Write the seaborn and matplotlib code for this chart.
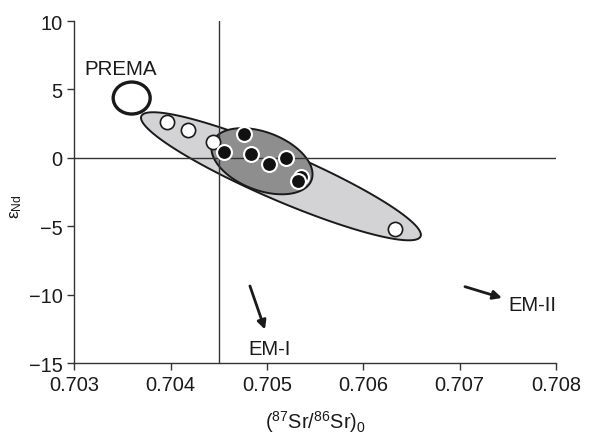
import numpy as np
import pandas as pd
import seaborn as sns
import matplotlib.pyplot as plt
from matplotlib.patches import Ellipse, Polygon

# data
open_sr = [0.703965, 0.704183, 0.704442, 0.706330]
open_nd = [2.63, 2.05, 1.17, -5.19]
filled_sr = [0.704763, 0.704553, 0.704829, 0.705016, 0.705192, 0.705349, 0.705326]
filled_nd = [1.75, 0.42, 0.29, -0.44, -0.02, -1.41, -1.70]

x_ticks = [0.703, 0.704, 0.705, 0.706, 0.707, 0.708]
y_ticks = [-15, -10, -5, 0, 5, 10]

sns.set_style("ticks")
plt.rcParams['font.family'] = ['Liberation Sans', 'DejaVu Sans']
plt.rcParams['mathtext.fontset'] = 'custom'
plt.rcParams['mathtext.rm'] = 'Liberation Sans'
plt.rcParams['mathtext.it'] = 'Liberation Sans'

fig = plt.figure(figsize=(6.04, 4.35), dpi=100)
ax = fig.add_axes([0.1233, 0.1632, 0.7972, 0.7862])
ax.set_xlim(0.703, 0.708)
ax.set_ylim(-15, 10)

# data units per pixel, so the ellipses can be given in screen terms
sx = 0.005 / 481.5
sy = 25 / 342.0


def ellipse_poly(cx, cy, a, b, ang):
    t = np.linspace(0, 2 * np.pi, 200)
    th = np.deg2rad(ang)
    u = a * np.cos(t)
    v = b * np.sin(t)
    px = u * np.cos(th) - v * np.sin(th)
    py = u * np.sin(th) + v * np.cos(th)
    return np.column_stack([cx + px * sx, cy + py * sy])


ax.add_patch(Polygon(ellipse_poly(0.705144, -1.35, 152, 24, -23.3),
                     closed=True, fc='#d3d3d5', ec='#1a1a1a', lw=1.4, zorder=1))
ax.add_patch(Polygon(ellipse_poly(0.704947, -0.25, 53, 29, -21),
                     closed=True, fc='#8e8e8e', ec='#1a1a1a', lw=1.4, zorder=1.5))
ax.add_patch(Ellipse((0.703594, 4.37), 37 * sx, 32 * sy, fc='none', ec='#1a1a1a',
                     lw=2.4, zorder=2))

ax.axhline(0, color='#333333', lw=1.0, zorder=2)
ax.axvline(0.7045, color='#333333', lw=1.0, zorder=2)

sns.scatterplot(x=open_sr, y=open_nd, ax=ax, s=105, color='white',
                edgecolor='#1a1a1a', linewidth=1.2, zorder=3)
sns.scatterplot(x=filled_sr, y=filled_nd, ax=ax, s=115, color='#111111',
                edgecolor='white', linewidth=1.5, zorder=3)

ax.text(0.703100, 6.55, 'PREMA', fontsize=14.8, va='center', ha='left', color='#1a1a1a')
ax.annotate('', xy=(0.704978, -12.55), xytext=(0.704822, -9.37),
            arrowprops=dict(arrowstyle='-|>', color='#1a1a1a', lw=2.0,
                            mutation_scale=13, shrinkA=0, shrinkB=0))
ax.text(0.704802, -13.96, 'EM-I', fontsize=14.5, va='center', ha='left', color='#1a1a1a')
ax.annotate('', xy=(0.707439, -10.24), xytext=(0.707055, -9.42),
            arrowprops=dict(arrowstyle='-|>', color='#1a1a1a', lw=2.0,
                            mutation_scale=13, shrinkA=0, shrinkB=0))
ax.text(0.707502, -10.73, 'EM-II', fontsize=14.5, va='center', ha='left', color='#1a1a1a')

ax.set_xticks(x_ticks)
ax.set_xticklabels([f'{v:.3f}' for v in x_ticks])
ax.set_yticks(y_ticks)
ax.set_yticklabels([str(v).replace('-', '\u2212') for v in y_ticks])
ax.tick_params(labelsize=14.4, length=5, width=1, color='#333333', labelcolor='#1a1a1a')
for side in ['left', 'bottom']:
    ax.spines[side].set_color('#333333')
    ax.spines[side].set_linewidth(1.0)
sns.despine(ax=ax)

ax.set_xlabel(r'($^{87}$Sr/$^{86}$Sr)$_0$', fontsize=14.4, labelpad=10, color='#1a1a1a')
ax.set_ylabel(r'ε$_{\mathrm{Nd}}$', fontsize=12.5, color='#1a1a1a')
ax.yaxis.set_label_coords(-0.105, 0.46)

fig.savefig('out.png', dpi=100)
